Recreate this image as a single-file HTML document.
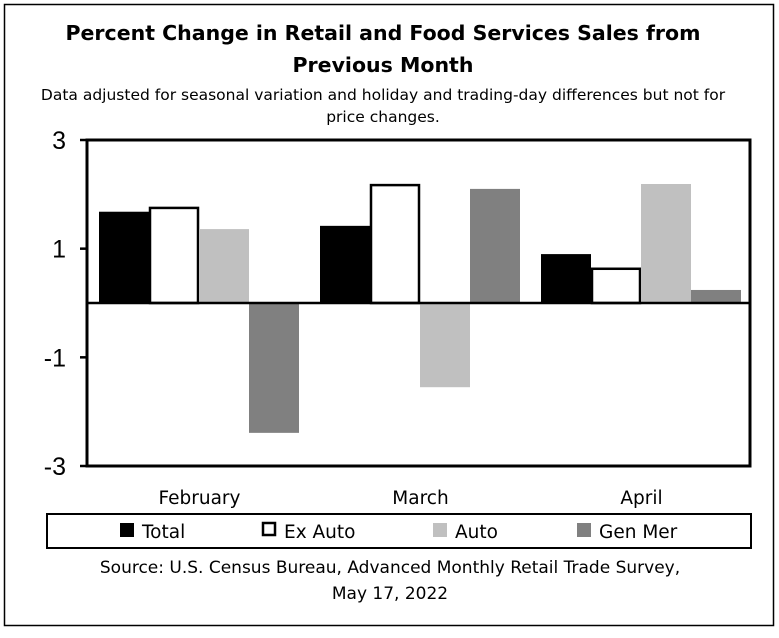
<!DOCTYPE html>
<html><head><meta charset="utf-8"><style>
body{margin:0;background:#fff;font-family:"DejaVu Sans","Liberation Sans",sans-serif;}
#wrap{position:relative;width:779px;height:634px;}
</style></head><body>
<div id="wrap">
<svg id="svg" width="779" height="634" xmlns="http://www.w3.org/2000/svg" font-family="DejaVu Sans, Liberation Sans, sans-serif">
<rect x="4.5" y="4.5" width="769" height="621" fill="#fff" stroke="#000" stroke-width="1.5"/>
<text x="383" y="40" text-anchor="middle" font-size="20.5" font-weight="bold">Percent Change in Retail and Food Services Sales from</text>
<text x="383" y="72" text-anchor="middle" font-size="20.5" font-weight="bold">Previous Month</text>
<text x="383" y="100" text-anchor="middle" font-size="15.5">Data adjusted for seasonal variation and holiday and trading-day differences but not for</text>
<text x="383" y="122" text-anchor="middle" font-size="15.5">price changes.</text>
<g id="plot"></g>
<rect x="47" y="514" width="704" height="34" fill="#fff" stroke="#000" stroke-width="2"/>
<g id="legend"></g>
<text x="390" y="573" text-anchor="middle" font-size="17">Source: U.S. Census Bureau, Advanced Monthly Retail Trade Survey,</text>
<text x="390" y="599" text-anchor="middle" font-size="17">May 17, 2022</text>
</svg>
</div>
<script>
const categories=["February","March","April"];
const seriesNames=["Total","Ex Auto","Auto","Gen Mer"];
const totalVals=[1.68,1.42,0.9];
const exAutoVals=[1.75,2.17,0.63];
const autoVals=[1.36,-1.55,2.19];
const genMerVals=[-2.39,2.1,0.24];
const yTicks=[3,1,-1,-3];
const series=[totalVals,exAutoVals,autoVals,genMerVals];
const fills=["#000","#fff","#c0c0c0","#808080"];
const NS="http://www.w3.org/2000/svg";
const L=87,R=750,T=140,B=466,yMin=-3,yMax=3;
const y=v=>T+(yMax-v)/(yMax-yMin)*(B-T);
const gw=(R-L)/categories.length;
const x=(ci,si)=>L+ci*gw+12+si*50;
const plot=document.getElementById('plot');
function mk(tag,attrs,parent){const e=document.createElementNS(NS,tag);for(const k in attrs)e.setAttribute(k,attrs[k]);(parent||plot).appendChild(e);return e;}
const frame=mk('rect',{x:L,y:T,width:R-L,height:B-T,fill:'#fff',stroke:'#000','stroke-width':3});


series.forEach((vals,si)=>{vals.forEach((v,ci)=>{
 const y0=y(0),yv=y(v);
 const b=mk('rect',{x:x(ci,si)+(si==1?1:0),y:Math.min(y0,yv),width:si==1?48:50,height:Math.abs(yv-y0),fill:fills[si],stroke:si==1?'#000':'none','stroke-width':si==1?2.5:0});
 
 
});});
const zl=mk('line',{x1:L,x2:R,y1:y(0),y2:y(0),stroke:'#000','stroke-width':2.5});


yTicks.forEach(t=>{
 const tk=mk('line',{x1:L-7,x2:L,y1:y(t),y2:y(t),stroke:'#000','stroke-width':2.5});
 
 
 const tx=mk('text',{x:L-21,y:y(t)+9,'text-anchor':'end','font-size':25,'font-family':'Liberation Sans, sans-serif'});
 tx.textContent=t;
 
 
});
categories.forEach((c,ci)=>{
 const tx=mk('text',{x:L+ci*gw+gw/2+2,y:504,'text-anchor':'middle','font-size':18.5});
 tx.textContent=c;
 
 
});
const lg=document.getElementById('legend');
const lx=[120,262,433,577];
seriesNames.forEach((n,i)=>{
 const r=mk('rect',{x:lx[i]+(i==1?1:0),y:523,width:i==1?12:14,height:i==1?12:14,fill:fills[i],stroke:i==1?'#000':'none','stroke-width':2.5},lg);
 
 
 const t=mk('text',{x:lx[i]+22,y:538,'font-size':18.5},lg);
 t.textContent=n;
 
 
});
</script>
</body></html>
